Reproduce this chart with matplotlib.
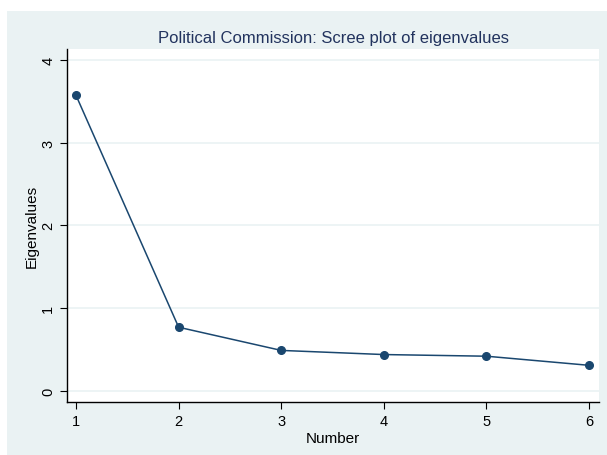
import matplotlib.pyplot as plt
from matplotlib.patches import Rectangle

plt.rcParams['font.family'] = ['Liberation Sans', 'DejaVu Sans']

# eigenvalues of the six components
number = [1, 2, 3, 4, 5, 6]
eigenvalues = [3.57, 0.77, 0.49, 0.44, 0.42, 0.31]
yticks = [0, 1, 2, 3, 4]

navy = '#1A476F'
panel = '#EAF2F3'

fig = plt.figure(figsize=(6.07, 4.56), dpi=100)
fig.patch.set_facecolor('white')
# shaded graph region behind the plot
fig.add_artist(Rectangle((7 / 607, 0), 1, 444 / 456, transform=fig.transFigure,
                         facecolor=panel, edgecolor='none', zorder=-10))

ax = fig.add_axes([67 / 607, 53 / 456, 532 / 607, 353 / 456])
ax.set_zorder(1)
ax.set_facecolor('white')
ax.plot(number, eigenvalues, color=navy, lw=1.1, marker='o', ms=5.5, zorder=3)

ax.set_xlim(0.912, 6.097)
ax.set_ylim(-0.133, 4.13)
ax.set_xticks(number)
ax.set_yticks(yticks)
ax.set_yticklabels([str(t) for t in yticks], rotation=90, va='center')
ax.grid(axis='y', color=panel, lw=1.2)
ax.set_axisbelow(True)

for side in ['top', 'right']:
    ax.spines[side].set_visible(False)
for side in ['left', 'bottom']:
    ax.spines[side].set_linewidth(1.0)
ax.tick_params(direction='out', length=5, width=0.8, labelsize=10.5, colors='black')

ax.set_xlabel('Number', fontsize=11, labelpad=2)
ax.set_ylabel('Eigenvalues', fontsize=11, labelpad=2)
ax.set_title('Political Commission: Scree plot of eigenvalues', fontsize=12,
             color='#22335E', pad=5)

fig.savefig('out.png', dpi=100)
